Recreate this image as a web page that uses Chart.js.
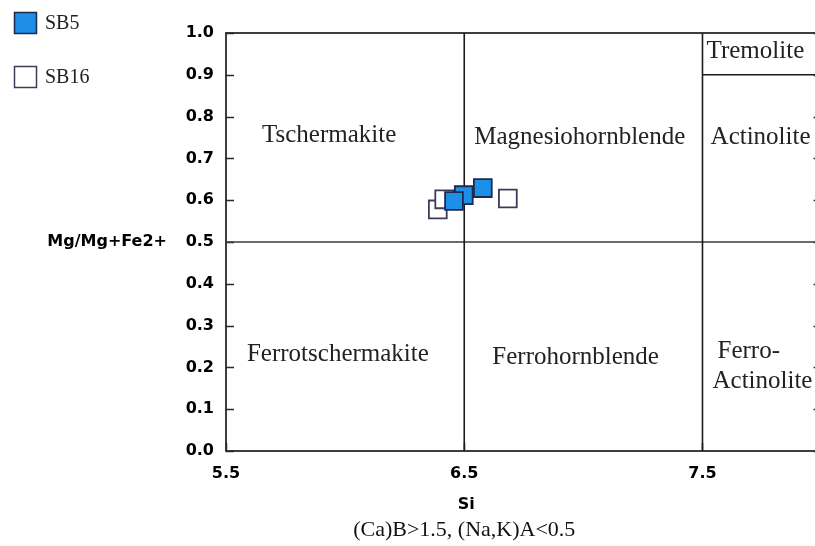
<!DOCTYPE html>
<html>
<head>
<meta charset="utf-8">
<script src="https://cdn.jsdelivr.net/npm/chart.js@4.4.1/dist/chart.umd.min.js"></script>
<style>
  html, body { margin: 0; padding: 0; background: #fff; overflow: hidden; }
  #wrap { width: 836px; height: 546px; overflow: hidden; position: relative; }
  canvas { display: block; width: 836px; height: 546px; }
</style>
</head>
<body>
<div id="wrap"><canvas id="c" width="836" height="546"></canvas></div>
<script>
// Amphibole analyses: Si (apfu) against Mg/(Mg+Fe2+)
const sb5Si  = [6.578, 6.498, 6.457];
const sb5Mg  = [0.629, 0.612, 0.598];
const sb16Si = [6.683, 6.389, 6.416];
const sb16Mg = [0.604, 0.578, 0.602];

// Axis ticks
const siTicks = [5.5, 6.5, 7.5];
const mgTicks = [0.0, 0.1, 0.2, 0.3, 0.4, 0.5, 0.6, 0.7, 0.8, 0.9, 1.0];
const siRange = [5.5, 8.0];
const mgRange = [0.0, 1.0];

// Classification field boundaries (Leake et al. calcic amphiboles)
const boundaryA = [[6.5, 0.0], [6.5, 1.0]];
const boundaryB = [[7.5, 0.0], [7.5, 1.0]];
const boundaryC = [[5.5, 0.5], [8.0, 0.5]];
const boundaryD = [[7.5, 0.9], [8.0, 0.9]];

// Field names and where they sit (in Si / Mg# units, left edge, vertical middle)
const fieldNames = ['Tschermakite', 'Magnesiohornblende', 'Actinolite', 'Tremolite',
                    'Ferrotschermakite', 'Ferrohornblende', 'Ferro-', 'Actinolite'];
const fieldSi = [5.651, 6.542, 7.534, 7.517, 5.588, 6.618, 7.563, 7.542];
const fieldMg = [0.756, 0.749, 0.751, 0.957, 0.230, 0.225, 0.237, 0.167];

const xTitle = 'Si';
const xSubtitle = '(Ca)B>1.5, (Na,K)A<0.5';
const yTitle = 'Mg/Mg+Fe2+';

const toPts = (xs, ys) => xs.map((x, i) => ({ x, y: ys[i] }));
const segPts = seg => seg.map(p => ({ x: p[0], y: p[1] }));

const tickFont = { family: 'DejaVu Sans', size: 16, weight: 'bold' };

const boundaryStyle = {
  showLine: true, borderColor: '#1a1a1a', borderWidth: 1.6,
  pointRadius: 0, pointHoverRadius: 0, fill: false, isBoundary: true
};

const decorPlugin = {
  id: 'decor',
  beforeDatasetsDraw(chart) {
    const { ctx, chartArea: a, scales: { x, y } } = chart;
    ctx.save();
    // plot frame
    ctx.strokeStyle = '#2a2a2a';
    ctx.lineWidth = 1.8;
    ctx.strokeRect(a.left, a.top, a.right - a.left, a.bottom - a.top);
    // inward tick marks
    ctx.lineWidth = 1.5;
    ctx.beginPath();
    mgTicks.forEach(v => {
      const py = Math.round(y.getPixelForValue(v)) + 0.5;
      ctx.moveTo(a.left, py); ctx.lineTo(a.left + 8, py);
      ctx.moveTo(a.right, py); ctx.lineTo(a.right - 8, py);
    });
    siTicks.forEach(v => {
      const px = Math.round(x.getPixelForValue(v)) + 0.5;
      ctx.moveTo(px, a.bottom); ctx.lineTo(px, a.bottom - 8);
    });
    ctx.stroke();
    // field names
    ctx.fillStyle = '#222';
    ctx.font = '25px "Liberation Serif"';
    ctx.textAlign = 'left';
    ctx.textBaseline = 'middle';
    fieldNames.forEach((name, i) => {
      ctx.fillText(name, x.getPixelForValue(fieldSi[i]), y.getPixelForValue(fieldMg[i]));
    });
    ctx.restore();
  },
  afterDraw(chart) {
    const { ctx, scales: { x, y } } = chart;
    ctx.save();
    // axis titles
    ctx.fillStyle = '#000';
    ctx.textBaseline = 'middle';
    ctx.font = 'bold 16px "DejaVu Sans"';
    ctx.textAlign = 'center';
    const midX = x.getPixelForValue((siTicks[0] + siTicks[siTicks.length - 1]) / 2);
    ctx.fillText(xTitle, midX + 2, 505);
    ctx.font = '22px "Liberation Serif"';
    ctx.fillStyle = '#111';
    ctx.fillText(xSubtitle, midX, 530);
    ctx.fillStyle = '#000';
    ctx.font = 'bold 16px "DejaVu Sans"';
    ctx.textAlign = 'right';
    ctx.fillText(yTitle, 167, y.getPixelForValue(0.5));
    // sample legend
    const samples = chart.data.datasets.filter(d => !d.isBoundary);
    samples.forEach((d, i) => {
      const top = 12 + i * 54;
      ctx.fillStyle = d.backgroundColor;
      ctx.fillRect(14, top, 23, 22);
      ctx.strokeStyle = d.borderColor;
      ctx.lineWidth = 1.5;
      ctx.strokeRect(14.5, top + 0.5, 22, 21);
      ctx.fillStyle = '#222';
      ctx.font = '20px "Liberation Serif"';
      ctx.textAlign = 'left';
      ctx.fillText(d.label, 45, top + 12);
    });
    ctx.restore();
  }
};

const chart = new Chart(document.getElementById('c'), {
  type: 'scatter',
  data: {
    datasets: [
      {
        label: 'SB5', data: toPts(sb5Si, sb5Mg),
        backgroundColor: '#1e8fe6', borderColor: '#1b2a4e', borderWidth: 1.8,
        pointStyle: 'rect', pointRadius: 12.6, pointHoverRadius: 12.6
      },
      {
        label: 'SB16', data: toPts(sb16Si, sb16Mg),
        backgroundColor: '#ffffff', borderColor: '#3c3c58', borderWidth: 1.8,
        pointStyle: 'rect', pointRadius: 12.6, pointHoverRadius: 12.6
      },
      Object.assign({ label: 'b1', data: segPts(boundaryA) }, boundaryStyle),
      Object.assign({ label: 'b2', data: segPts(boundaryB) }, boundaryStyle),
      Object.assign({ label: 'b3', data: segPts(boundaryC) }, boundaryStyle, { borderColor: '#3a3a3a' }),
      Object.assign({ label: 'b4', data: segPts(boundaryD) }, boundaryStyle)
    ]
  },
  options: {
    responsive: false,
    animation: false,
    layout: { padding: { left: 0, top: 33, right: 8, bottom: 0 } },
    plugins: { legend: { display: false }, tooltip: { enabled: false } },
    scales: {
      x: {
        type: 'linear', min: siRange[0], max: siRange[1],
        afterBuildTicks: s => { s.ticks = siTicks.map(v => ({ value: v })); },
        afterFit: s => { s.height = 95; },
        grid: { display: false, drawTicks: false },
        border: { display: false },
        ticks: { font: tickFont, color: '#000', padding: 13, maxRotation: 0,
                 callback: v => Number(v).toFixed(1) }
      },
      y: {
        type: 'linear', min: mgRange[0], max: mgRange[1],
        afterBuildTicks: s => { s.ticks = mgTicks.map(v => ({ value: v })); },
        afterFit: s => { s.width = 226; },
        grid: { display: false, drawTicks: false },
        border: { display: false },
        ticks: { font: tickFont, color: '#000', padding: 12,
                 callback: v => Number(v).toFixed(1) }
      }
    }
  },
  plugins: [decorPlugin]
});
</script>
</body>
</html>
